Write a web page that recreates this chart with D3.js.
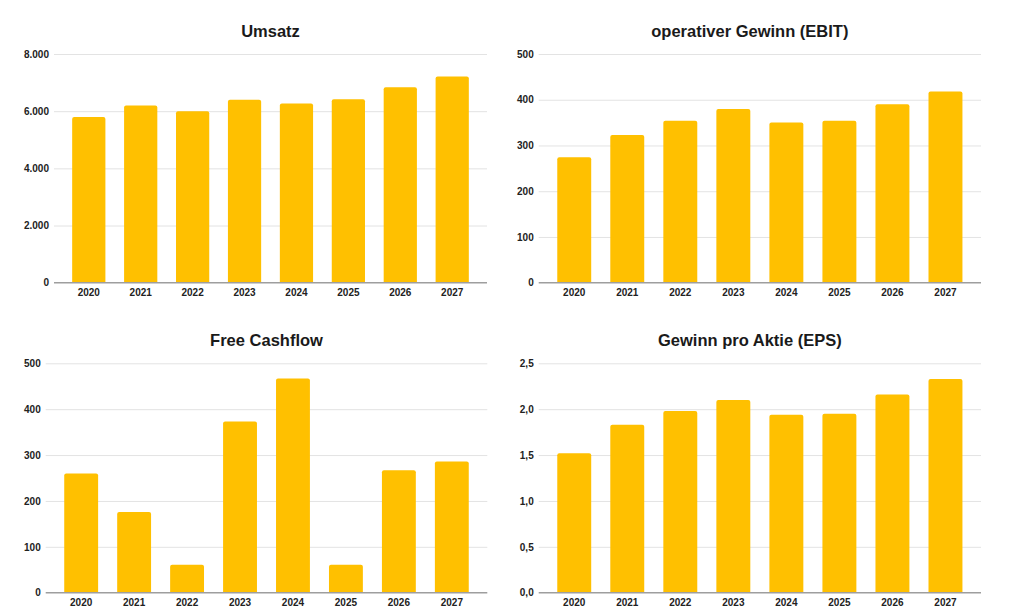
<!DOCTYPE html>
<html>
<head>
<meta charset="utf-8">
<script src="https://cdn.jsdelivr.net/npm/d3@7"></script>
<style>
  body { margin: 0; background: #fff; }
  svg { display: block; font-family: "Liberation Sans", Arial, sans-serif; }
  .tick text { font-size: 10px; font-weight: bold; fill: #222; }
  .grid line { stroke: #e3e3e3; stroke-width: 1; }
  .title { font-size: 16.5px; font-weight: bold; fill: #1a1a1a; }
</style>
</head>
<body>
<svg id="chart" width="1024" height="616"></svg>
<script>
// data
const years = ["2020", "2021", "2022", "2023", "2024", "2025", "2026", "2027"];
const umsatz = [5800, 6200, 6000, 6400, 6270, 6420, 6840, 7210];
const ebit = [274, 323, 354, 380, 350, 354, 390, 418];
const fcf = [260, 176, 61, 373, 467, 61, 267, 286];
const eps = [1.52, 1.83, 1.98, 2.10, 1.94, 1.95, 2.16, 2.33];

const umsatzTicks = [0, 2000, 4000, 6000, 8000];
const ebitTicks = [0, 100, 200, 300, 400, 500];
const fcfTicks = [0, 100, 200, 300, 400, 500];
const epsTicks = [0, 0.5, 1.0, 1.5, 2.0, 2.5];

const de = d3.formatLocale({ decimal: ",", thousands: ".", grouping: [3], currency: ["", " €"] });

const barColor = "#ffc000";

// panel layout
const panels = [
  { title: "Umsatz", values: umsatz, ticks: umsatzTicks, fmt: de.format(",.0f"),
    left: 54, right: 487, top: 54, bottom: 282.7, titleY: 36.7 },
  { title: "operativer Gewinn (EBIT)", values: ebit, ticks: ebitTicks, fmt: de.format(",.0f"),
    left: 538.7, right: 981, top: 54, bottom: 282.7, titleY: 36.7 },
  { title: "Free Cashflow", values: fcf, ticks: fcfTicks, fmt: de.format(",.0f"),
    left: 45.7, right: 487.3, top: 363.3, bottom: 592.7, titleY: 345.5 },
  { title: "Gewinn pro Aktie (EPS)", values: eps, ticks: epsTicks, fmt: de.format(".1f"),
    left: 538.7, right: 981, top: 363.3, bottom: 592.7, titleY: 345.5 },
];

const svg = d3.select("#chart");

function barPath(x0, y0, w, h, r) {
  r = Math.min(r, h, w / 2);
  return `M${x0},${y0 + h}V${y0 + r}Q${x0},${y0} ${x0 + r},${y0}` +
    `H${x0 + w - r}Q${x0 + w},${y0} ${x0 + w},${y0 + r}V${y0 + h}Z`;
}

panels.forEach((p) => {
  const width = p.right - p.left;
  const height = p.bottom - p.top;

  const x = d3.scaleBand()
    .domain(years)
    .range([0, width])
    .paddingInner(0.36)
    .paddingOuter(0.35);

  const y = d3.scaleLinear()
    .domain([d3.min(p.ticks), d3.max(p.ticks)])
    .range([height, 0]);

  const g = svg.append("g").attr("transform", `translate(${p.left},${p.top})`);

  // title
  svg.append("text")
    .attr("class", "title")
    .attr("x", (p.left + p.right) / 2 + (p.left < 100 ? 0 : -10))
    .attr("y", p.titleY)
    .attr("text-anchor", "middle")
    .text(p.title);

  // y axis + grid
  const yAxis = g.append("g")
    .attr("class", "grid")
    .call(d3.axisLeft(y).tickValues(p.ticks).tickSize(-width).tickPadding(5).tickFormat(p.fmt));
  yAxis.select(".domain").remove();
  yAxis.selectAll(".tick").filter((d) => d === 0).select("line").remove();

  // bars
  g.selectAll(".bar")
    .data(p.values)
    .enter()
    .append("path")
    .attr("class", "bar")
    .attr("fill", barColor)
    .attr("d", (d, i) => barPath(x(years[i]), y(d), x.bandwidth(), height - y(d), 2));

  // baseline
  g.append("line")
    .attr("x1", 0).attr("x2", width)
    .attr("y1", height).attr("y2", height)
    .attr("stroke", "#9e9e9e")
    .attr("stroke-width", 1.5);

  // x axis
  const xAxis = g.append("g")
    .attr("transform", `translate(0,${height})`)
    .call(d3.axisBottom(x).tickSize(0).tickPadding(6.5));
  xAxis.select(".domain").remove();
});
</script>
</body>
</html>
